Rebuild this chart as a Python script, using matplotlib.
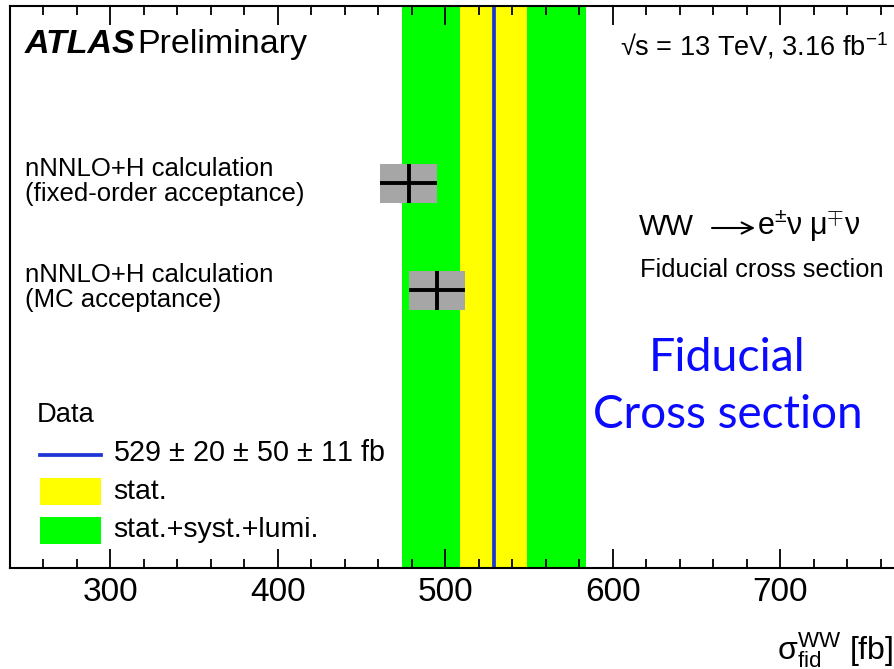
import matplotlib
matplotlib.use("Agg")
import matplotlib.pyplot as plt
from matplotlib.ticker import MultipleLocator
from matplotlib.patches import Rectangle
from matplotlib.lines import Line2D

plt.rcParams['font.family'] = ['Liberation Sans', 'DejaVu Sans']
plt.rcParams['mathtext.fontset'] = 'custom'
plt.rcParams['mathtext.rm'] = 'Liberation Sans'
plt.rcParams['mathtext.it'] = 'Liberation Sans:italic'
plt.rcParams['mathtext.sf'] = 'Liberation Sans'

# measured fiducial cross section [fb]
data_val = 529
data_stat = 20
data_syst = 50
data_lumi = 11
stat_band = (509, 549)
total_band = (474, 584)

# theory predictions
pred_labels = ["nNNLO+H calculation\n(fixed-order acceptance)",
               "nNNLO+H calculation\n(MC acceptance)"]
pred_vals = [478, 495]
pred_errs = [17, 17]
pred_ypos = [0.684, 0.494]

fig = plt.figure(figsize=(8.94, 6.69), dpi=100)
# axes runs past the right edge of the picture, like the original
ax = fig.add_axes([10/894, 101.3/669, 921/894, 561.7/669])

ax.axvspan(total_band[0], total_band[1], color='#00ff00', lw=0)
ax.axvspan(stat_band[0], stat_band[1], color='#ffff00', lw=0)
ax.axvline(data_val, color='#1c35d4', lw=2.7)

box_h = 0.07
ax.barh(pred_ypos, [2*e for e in pred_errs],
        left=[v - e for v, e in zip(pred_vals, pred_errs)],
        height=box_h, color='#a6a6a6', lw=0)
ax.errorbar(pred_vals, pred_ypos, xerr=pred_errs, yerr=box_h/2,
            fmt='none', ecolor='black', elinewidth=2.8, capsize=0)

ax.set_xlim(240, 790)
ax.set_ylim(0, 1)
ax.xaxis.set_major_locator(MultipleLocator(100))
ax.xaxis.set_minor_locator(MultipleLocator(20))
ax.tick_params(axis='x', which='both', direction='in', top=True,
               labelsize=24, pad=7, width=1.3)
ax.tick_params(axis='x', which='major', length=13.7)
ax.tick_params(axis='x', which='minor', length=6.7)
ax.tick_params(axis='y', which='both', left=False, labelleft=False)
for s in ax.spines.values():
    s.set_linewidth(1.5)


def axp(px, py):
    # picture pixels -> axes fraction
    return ((px - 10) / 921, (567.7 - py) / 561.7)


# prediction labels
for lab, y in zip(pred_labels, pred_ypos):
    ax.text(axp(25, 0)[0], y + 0.004, lab, transform=ax.transAxes,
            fontsize=18.5, va='center', ha='left', linespacing=1.05)

# top texts
ax.text(*axp(25, 45), "ATLAS", transform=ax.transAxes, fontsize=24.5,
        fontweight='bold', fontstyle='italic', va='center')
ax.text(*axp(137, 45), "Preliminary", transform=ax.transAxes, fontsize=24.5,
        va='center')
ax.text(*axp(620, 46), "\u221as = 13 TeV, 3.16 fb$^{-1}$",
        transform=ax.transAxes, fontsize=19.5, va='center')

# process label, in pieces so the arrow is drawn long like the original
ax.text(*axp(639, 227), "WW", transform=ax.transAxes, fontsize=21,
        va='center')
ax.annotate("", xy=axp(755, 228), xytext=axp(712, 228),
            xycoords='axes fraction', textcoords='axes fraction',
            arrowprops=dict(arrowstyle='->', lw=1.5, color='black',
                            mutation_scale=20, shrinkA=0, shrinkB=0))
ax.text(*axp(757, 227), "e$^{\\pm}$\u03bd", transform=ax.transAxes,
        fontsize=22, va='center')
ax.text(*axp(809, 227), "\u03bc$^{\\mp}$\u03bd", transform=ax.transAxes,
        fontsize=22, va='center')

ax.text(*axp(640, 270), "Fiducial cross section", transform=ax.transAxes,
        fontsize=18.3, va='center')
ax.text(*axp(727, 358), "Fiducial", transform=ax.transAxes, fontsize=33.5,
        color='#0a0aff', ha='center', va='center',
        family=['Lato', 'DejaVu Sans'])
ax.text(*axp(728, 415), "Cross section", transform=ax.transAxes, fontsize=33,
        color='#0a0aff', ha='center', va='center',
        family=['Lato', 'DejaVu Sans'])

# legend
ax.text(*axp(37, 415), "Data", transform=ax.transAxes, fontsize=19.7,
        va='center')
x0, _ = axp(40, 0)
x1, _ = axp(101, 0)
ax.add_line(Line2D([x0, x1], [axp(0, 455)[1]] * 2, transform=ax.transAxes,
                   color='#1c35d4', lw=2.7))
leg_rows = [(492, '#ffff00', "stat."), (530, '#00ff00', "stat.+syst.+lumi.")]
for py, col, txt in leg_rows:
    yb = axp(0, py + 13.5)[1]
    yt = axp(0, py - 13.5)[1]
    ax.add_patch(Rectangle((x0, yb), x1 - x0, yt - yb, transform=ax.transAxes,
                           color=col, lw=0))
    ax.text(*axp(113, py), txt, transform=ax.transAxes, fontsize=20.5,
            va='center')
ax.text(*axp(113, 453),
        f"{data_val} $\\pm$ {data_stat} $\\pm$ {data_syst} $\\pm$ {data_lumi} fb",
        transform=ax.transAxes, fontsize=20.7, va='center')

fig.text(893/894, 1 - 650/669, "$\\mathrm{\u03c3}_{\\rm fid}^{\\rm WW}$ [fb]",
         fontsize=23, ha='right', va='center')

fig.savefig("out.png", dpi=100)
